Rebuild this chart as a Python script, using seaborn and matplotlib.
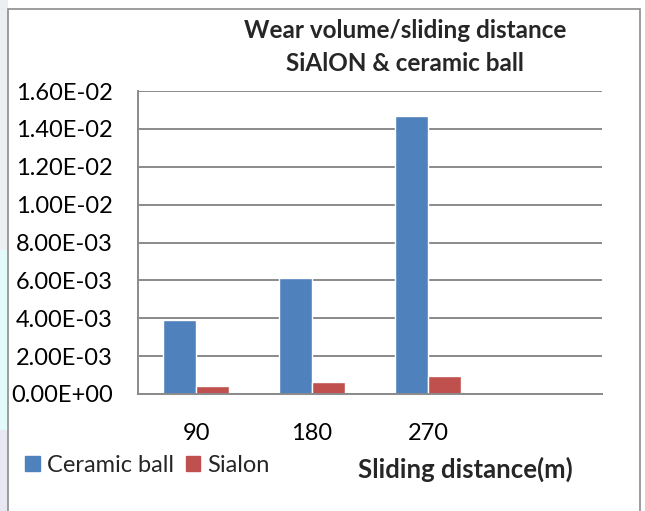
import matplotlib
matplotlib.use("Agg")
import matplotlib.pyplot as plt
import seaborn as sns
import pandas as pd
from matplotlib.patches import Rectangle, Patch

categories = ["90", "180", "270"]
ceramic_ball = [0.0039, 0.0061, 0.0147]
sialon = [0.00043, 0.00063, 0.00093]
y_ticks = [0, 0.002, 0.004, 0.006, 0.008, 0.010, 0.012, 0.014, 0.016]
y_labels = ["0.00E+00", "2.00E-03", "4.00E-03", "6.00E-03", "8.00E-03",
            "1.00E-02", "1.20E-02", "1.40E-02", "1.60E-02"]

df = pd.DataFrame({
    "distance": categories * 2,
    "value": ceramic_ball + sialon,
    "series": ["Ceramic ball"] * 3 + ["Sialon"] * 3,
})

sns.set_theme(style="white")
plt.rcParams["font.family"] = ["Lato", "DejaVu Sans"]

W, H = 645, 511
fig = plt.figure(figsize=(W / 100, H / 100), dpi=100)
fig.patch.set_facecolor("white")


def fig_rect(x0, y0, x1, y1, **kw):
    fig.patches.append(Rectangle((x0 / W, 1 - y1 / H), (x1 - x0) / W, (y1 - y0) / H,
                                 transform=fig.transFigure, **kw))


# faint background watermark on the left edge
fig_rect(0, 0, 8, 250, color="#eceff1", lw=0)
fig_rect(0, 250, 8, 430, color="#e2fafa", lw=0)
fig_rect(0, 430, 8, 511, color="#e8e8f4", lw=0)
# outer chart frame (bottom edge lies outside the picture)
fig_rect(8, 9.5, 640, 520, fill=False, edgecolor="#8c8c8c", linewidth=1.2)

ax = fig.add_axes([138 / W, 1 - 394 / H, (602 - 138) / W, (394 - 91) / H])
colors = {"Ceramic ball": "#4F81BD", "Sialon": "#C0504D"}
sns.barplot(data=df, x="distance", y="value", hue="series",
            order=categories + [" "], palette=colors, width=0.57,
            ax=ax, legend=False, saturation=1)

FS = 17
ax.set_xlim(-0.5, 3.5)
ax.set_ylim(0, 0.016)
ax.set_yticks(y_ticks)
ax.set_yticklabels(y_labels, fontsize=FS, color="black")
ax.set_xticks([0, 1, 2, 3])
ax.set_xticklabels(categories + [""], fontsize=FS, color="black")
ax.tick_params(axis="y", length=0, pad=18)
ax.tick_params(axis="x", length=0, pad=21)
ax.yaxis.grid(True, color="#8a8a8a", linewidth=1.4)
ax.set_axisbelow(True)
for s in ["top", "right"]:
    ax.spines[s].set_visible(False)
ax.spines["left"].set_color("#8a8a8a")
ax.spines["bottom"].set_color("#8a8a8a")
ax.spines["left"].set_linewidth(1.4)
ax.spines["bottom"].set_linewidth(1.4)
ax.set_xlabel("")
ax.set_ylabel("")

fig.text(405 / W, 1 - 30 / H, "Wear volume/sliding distance",
         ha="center", va="center", fontsize=17.5, fontweight="bold")
fig.text(405 / W, 1 - 63 / H, "SiAlON & ceramic ball",
         ha="center", va="center", fontsize=17.5, fontweight="bold")
fig.text(465 / W, 1 - 469 / H, "Sliding distance(m)", ha="center", va="center",
         fontsize=18.5, fontweight="bold")

handles = [Patch(color=colors["Ceramic ball"]), Patch(color=colors["Sialon"])]
fig.legend(handles, ["Ceramic ball", "Sialon"], loc="center left",
           bbox_to_anchor=(16 / W, 1 - 465 / H), ncol=2, frameon=False,
           fontsize=FS, handlelength=0.6, handleheight=0.6,
           handletextpad=0.3, columnspacing=0.5, borderaxespad=0)

fig.savefig("out.png", dpi=100)
